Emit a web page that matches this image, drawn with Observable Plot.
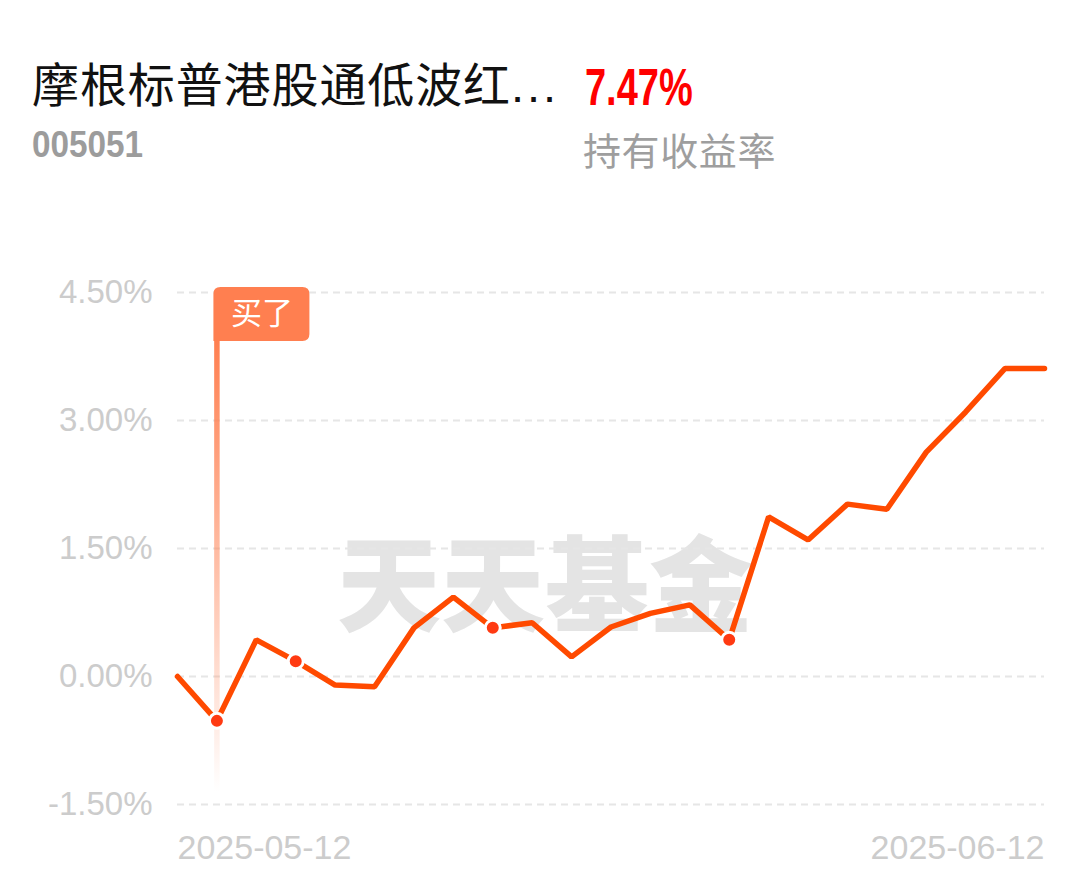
<!DOCTYPE html>
<html>
<head>
<meta charset="utf-8">
<script src="https://cdn.jsdelivr.net/npm/d3@7"></script>
<script src="https://cdn.jsdelivr.net/npm/@observablehq/plot@0.6"></script>
<style>
  html, body { margin: 0; padding: 0; background: #ffffff; }
  #page { position: relative; width: 1089px; height: 881px; overflow: hidden; }
  #header { position: relative; width: 1089px; height: 200px; }
  .h { position: absolute; white-space: nowrap; line-height: 1; }
  #title { left: 32px; top: 62px; font-size: 47px; color: #111; font-family: "Liberation Sans", "Noto Sans CJK SC", sans-serif; letter-spacing: 0.9px; }
  #title .dots { letter-spacing: 3px; }
  #pct { left: 585px; top: 61px; font-size: 52px; font-weight: bold; color: #ff0000; font-family: "Liberation Sans", sans-serif; transform: scaleX(0.73); transform-origin: left top; }
  #code { left: 32px; top: 126px; font-size: 37px; font-weight: bold; color: #9c9c9c; font-family: "Liberation Sans", sans-serif; transform: scaleX(0.9); transform-origin: left top; }
  #sub { left: 583px; top: 130px; font-size: 38px; color: #9e9e9e; font-family: "Noto Sans CJK SC", sans-serif; letter-spacing: 0.6px; }
  #chart { position: absolute; left: 0; top: 200px; }
</style>
</head>
<body>
<div id="page">
  <div id="header">
    <div class="h" id="title"><span id="tname"></span><span class="dots" id="tdots"></span></div>
    <div class="h" id="pct"></div>
    <div class="h" id="code"></div>
    <div class="h" id="sub"></div>
  </div>
  <div id="chart"></div>
</div>
<script>
// ---- header text ----
const fundName = "摩根标普港股通低波红";
const fundNameEllipsis = "...";
const fundCode = "005051";
const holdReturn = "7.47%";
const holdReturnLabel = "持有收益率";

// ---- chart data ----
const dates = [
  "2025-05-12","2025-05-13","2025-05-14","2025-05-15","2025-05-16",
  "2025-05-19","2025-05-20","2025-05-21","2025-05-22","2025-05-23",
  "2025-05-26","2025-05-27","2025-05-28","2025-05-29","2025-05-30",
  "2025-06-03","2025-06-04","2025-06-05","2025-06-06",
  "2025-06-09","2025-06-10","2025-06-11","2025-06-12"
];
const returns = [
  0.00, -0.52, 0.43, 0.18, -0.10,
  -0.12, 0.57, 0.93, 0.57, 0.63,
  0.23, 0.58, 0.74, 0.84, 0.43,
  1.87, 1.60, 2.02, 1.96,
  2.63, 3.10, 3.61, 3.61
];
const markDates = ["2025-05-13", "2025-05-15", "2025-05-22", "2025-05-30"];
const buyDate = "2025-05-13";
const buyLabel = "买了";
const yTicks = [-1.5, 0, 1.5, 3, 4.5];
const xLabelFirst = dates[0];
const xLabelLast = dates[dates.length - 1];
const watermark = "天天基金";

document.getElementById("tname").textContent = fundName;
document.getElementById("tdots").textContent = fundNameEllipsis;
document.getElementById("pct").textContent = holdReturn;
document.getElementById("code").textContent = fundCode;
document.getElementById("sub").textContent = holdReturnLabel;

const series = dates.map((d, i) => ({date: d, ret: returns[i]}));
const markPts = series.filter(d => markDates.includes(d.date));

const FLAG = "#ff7f50";
const LINE = "#ff4a00";
const DOT = "#ff3a12";
const M_TOP = 92, M_BOTTOM = 77, H = 681;

const plot = Plot.plot({
  width: 1089,
  height: H,
  marginLeft: 177,
  marginRight: 45,
  marginTop: M_TOP,
  marginBottom: M_BOTTOM,
  style: {
    fontFamily: "'Liberation Sans', Arial, sans-serif",
    fontSize: "33px",
    color: "#cccccc",
    background: "#ffffff",
    overflow: "visible"
  },
  x: {type: "point", domain: dates, padding: 0, round: false, axis: null},
  y: {
    domain: [-1.5, 4.5],
    ticks: yTicks,
    tickFormat: d => d.toFixed(2) + "%",
    tickSize: 0,
    tickPadding: 25,
    label: null
  },
  marks: [
    Plot.text([watermark], {
      text: d => d,
      frameAnchor: "middle",
      dx: -66,
      dy: 42,
      fontSize: 104,
      fontWeight: 900,
      fill: "#e4e4e4",
      fontFamily: "'Noto Sans CJK SC', sans-serif"
    }),
    Plot.ruleY(yTicks, {stroke: "#e6e6e6", strokeWidth: 2, strokeDasharray: "7,5"}),
    Plot.ruleX([buyDate], {
      stroke: "url(#buyGrad)",
      strokeWidth: 5.5,
      insetTop: 49,
      insetBottom: 12
    }),
    Plot.line(series, {
      x: "date", y: "ret",
      stroke: LINE, strokeWidth: 5.5,
      strokeLinejoin: "miter", strokeLinecap: "round"
    }),
    Plot.dot(markPts, {
      x: "date", y: "ret",
      r: 7.5, fill: DOT, stroke: "#ffffff", strokeWidth: 3
    }),
    Plot.text([xLabelFirst], {
      x: d => d, text: d => d,
      frameAnchor: "bottom", dy: 44, textAnchor: "start", lineAnchor: "middle",
      fontSize: 34, fill: "#cccccc"
    }),
    Plot.text([xLabelLast], {
      x: d => d, text: d => d,
      frameAnchor: "bottom", dy: 44, textAnchor: "end", lineAnchor: "middle",
      fontSize: 34, fill: "#cccccc"
    }),
    Plot.text([buyDate], {
      x: d => d, text: () => buyLabel,
      frameAnchor: "top", dx: 45, dy: 22, lineAnchor: "middle",
      fontSize: 31, fill: "#ffffff",
      fontFamily: "'Noto Sans CJK SC', sans-serif"
    })
  ]
});

// gradient for the buy marker stem + flag background
const svgSel = d3.select(plot);
const xb = plot.scale("x").apply(buyDate);
const defs = svgSel.insert("defs", ":first-child");
const grad = defs.append("linearGradient")
  .attr("id", "buyGrad")
  .attr("gradientUnits", "userSpaceOnUse")
  .attr("x1", 0).attr("x2", 0)
  .attr("y1", M_TOP + 49).attr("y2", H - M_BOTTOM - 12);
grad.append("stop").attr("offset", "0").attr("stop-color", FLAG).attr("stop-opacity", 1);
grad.append("stop").attr("offset", "1").attr("stop-color", FLAG).attr("stop-opacity", 0);

const textGroups = plot.querySelectorAll('g[aria-label="text"]');
const flagText = textGroups[textGroups.length - 1];
const fx0 = xb - 3, fx1 = xb + 93, fy0 = M_TOP - 5, fy1 = M_TOP + 49, rr = 7;
const flagPath = `M${fx0},${fy1} L${fx0},${fy0 + rr} Q${fx0},${fy0} ${fx0 + rr},${fy0} L${fx1 - rr},${fy0} Q${fx1},${fy0} ${fx1},${fy0 + rr} L${fx1},${fy1 - rr} Q${fx1},${fy1} ${fx1 - rr},${fy1} Z`;
const p = document.createElementNS("http://www.w3.org/2000/svg", "path");
p.setAttribute("d", flagPath);
p.setAttribute("fill", FLAG);
flagText.parentNode.insertBefore(p, flagText);

document.getElementById("chart").appendChild(plot);
</script>
</body>
</html>
